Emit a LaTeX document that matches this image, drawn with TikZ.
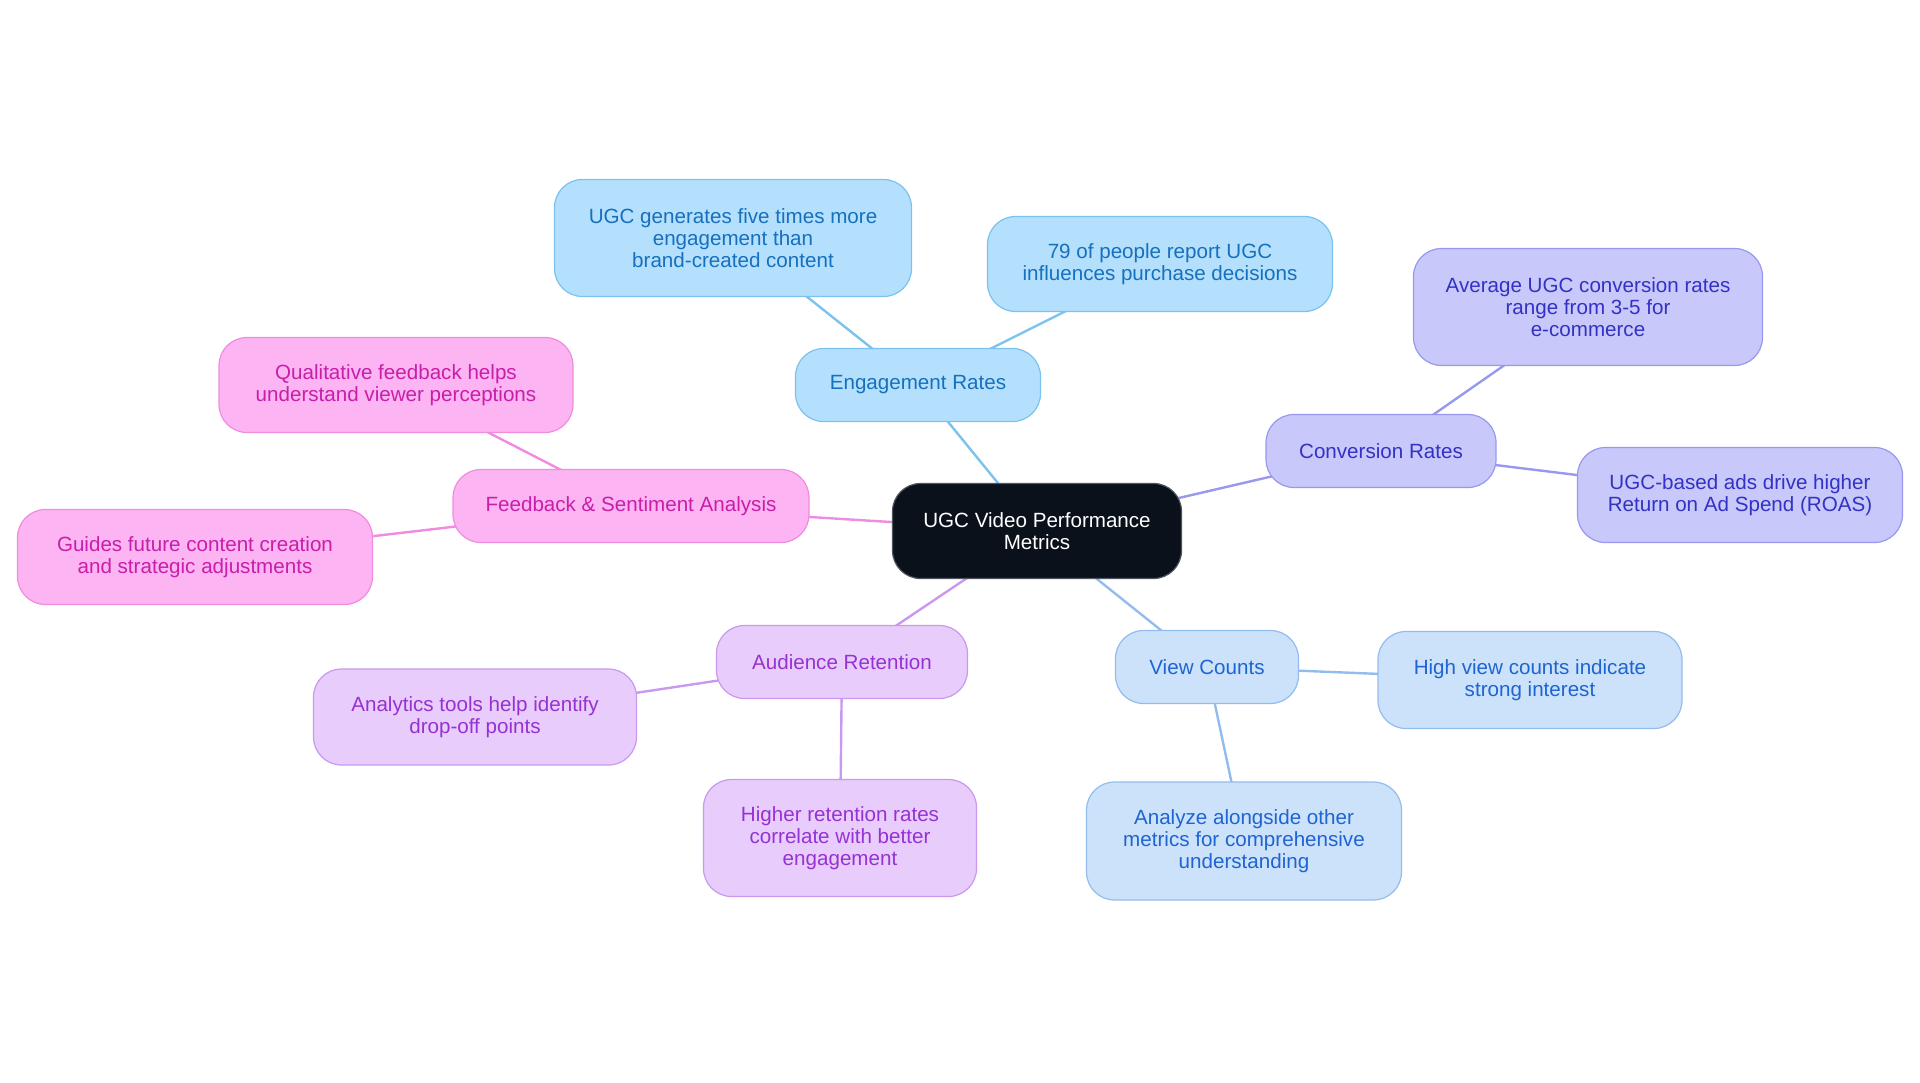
\documentclass[tikz,border=0pt]{standalone}
\usepackage{fontspec}
\setmainfont{Liberation Sans}
\usetikzlibrary{backgrounds}
\definecolor{cdark}{HTML}{0B111B}
\definecolor{cdarkline}{HTML}{505560}
\definecolor{bfill}{HTML}{B4E0FD}
\definecolor{bline}{HTML}{7CC2EE}
\definecolor{btext}{HTML}{1670BE}
\definecolor{pfill}{HTML}{C8C8FA}
\definecolor{pline}{HTML}{9898F0}
\definecolor{ptext}{HTML}{3232C4}
\definecolor{vfill}{HTML}{CCE2FA}
\definecolor{vline}{HTML}{92BCEE}
\definecolor{vtext}{HTML}{1E64D2}
\definecolor{afill}{HTML}{E8CCFC}
\definecolor{aline}{HTML}{CB98F0}
\definecolor{atext}{HTML}{9632D2}
\definecolor{ffill}{HTML}{FCB4F2}
\definecolor{fline}{HTML}{F08CE0}
\definecolor{ftext}{HTML}{C81EAA}
\tikzset{
  box/.style={draw, rounded corners=28pt, line width=1.2pt, align=center, inner sep=0pt,
    font=\fontsize{20.6}{22}\selectfont},
  centralbox/.style={box, fill=cdark, draw=cdarkline, text=white},
  bluebox/.style={box, fill=bfill, draw=bline, text=btext},
  purplebox/.style={box, fill=pfill, draw=pline, text=ptext},
  viewbox/.style={box, fill=vfill, draw=vline, text=vtext},
  audbox/.style={box, fill=afill, draw=aline, text=atext},
  feedbox/.style={box, fill=ffill, draw=fline, text=ftext},
  conn/.style={line width=2.4pt},
}
\begin{document}
\begin{tikzpicture}[x=1pt,y=-1pt]
\useasboundingbox (0,0) rectangle (1920,1083);
\node[centralbox, minimum width=289pt, minimum height=95pt] (c) at (1037,531) {UGC Video Performance\\Metrics};
% Engagement
\node[bluebox, minimum width=245pt, minimum height=73pt] (er) at (918,385) {Engagement Rates};
\node[bluebox, minimum width=357pt, minimum height=117pt] (er1) at (733,238) {UGC generates five times more\\engagement than\\brand-created content};
\node[bluebox, minimum width=345pt, minimum height=95pt] (er2) at (1160,264) {79 of people report UGC\\influences purchase decisions};
% Conversion
\node[purplebox, minimum width=230pt, minimum height=73pt] (cr) at (1381,451) {Conversion Rates};
\node[purplebox, minimum width=349pt, minimum height=117pt] (cr1) at (1588,307) {Average UGC conversion rates\\range from 3-5 for\\e-commerce};
\node[purplebox, minimum width=325pt, minimum height=95pt] (cr2) at (1740,495) {UGC-based ads drive higher\\Return on Ad Spend (ROAS)};
% View counts
\node[viewbox, minimum width=183pt, minimum height=73pt] (vc) at (1207,667) {View Counts};
\node[viewbox, minimum width=304pt, minimum height=97pt] (vc1) at (1530,680) {High view counts indicate\\strong interest};
\node[viewbox, minimum width=315pt, minimum height=118pt] (vc2) at (1244,841) {Analyze alongside other\\metrics for comprehensive\\understanding};
% Audience retention
\node[audbox, minimum width=251pt, minimum height=73pt] (ar) at (842,662) {Audience Retention};
\node[audbox, minimum width=323pt, minimum height=96pt] (ar1) at (475,717) {Analytics tools help identify\\drop-off points};
\node[audbox, minimum width=273pt, minimum height=117pt] (ar2) at (840,838) {Higher retention rates\\correlate with better\\engagement};
% Feedback
\node[feedbox, minimum width=356pt, minimum height=73pt] (fs) at (631,506) {Feedback \& Sentiment Analysis};
\node[feedbox, minimum width=354pt, minimum height=95pt] (fs1) at (396,385) {Qualitative feedback helps\\understand viewer perceptions};
\node[feedbox, minimum width=355pt, minimum height=95pt] (fs2) at (195,557) {Guides future content creation\\and strategic adjustments};
\begin{scope}[on background layer]
\draw[conn, bline] (c.center) -- (er.center);
\draw[conn, bline] (er.center) -- (er1.center);
\draw[conn, bline] (er.center) -- (er2.center);
\draw[conn, pline] (c.center) -- (cr.center);
\draw[conn, pline] (cr.center) -- (cr1.center);
\draw[conn, pline] (cr.center) -- (cr2.center);
\draw[conn, vline] (c.center) -- (vc.center);
\draw[conn, vline] (vc.center) -- (vc1.center);
\draw[conn, vline] (vc.center) -- (vc2.center);
\draw[conn, aline] (c.center) -- (ar.center);
\draw[conn, aline] (ar.center) -- (ar1.center);
\draw[conn, aline] (ar.center) -- (ar2.center);
\draw[conn, fline] (c.center) -- (fs.center);
\draw[conn, fline] (fs.center) -- (fs1.center);
\draw[conn, fline] (fs.center) -- (fs2.center);
\end{scope}
\end{tikzpicture}
\end{document}
